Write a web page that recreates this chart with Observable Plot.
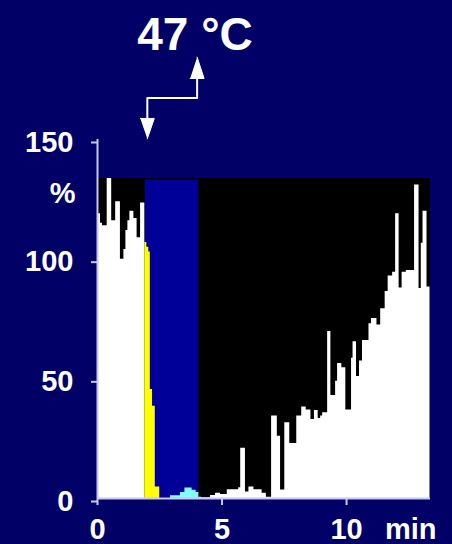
<!DOCTYPE html>
<html><head><meta charset="utf-8">
<script src="https://cdn.jsdelivr.net/npm/d3@7"></script>
<script src="https://cdn.jsdelivr.net/npm/@observablehq/plot@0.6"></script>
<style>
html,body{margin:0;padding:0;background:#000066;}
#wrap{position:relative;width:452px;height:544px;overflow:hidden;}
#wrap svg{display:block;}
#title{position:absolute;left:0;top:11px;width:390px;text-align:center;color:#fff;font:bold 46px/1 "Liberation Sans",Arial,sans-serif;}
</style></head>
<body><div id="wrap"><div id="title">47 °C</div></div>
<script>
// ---- data (time in min, response in %) ----
const titleText = "47 °C";
const xTicks = [0, 5, 10];
const yTicks = [0, 50, 100, 150];
const recordEnd = 13.37, recordTop = 133.7;     // black recording panel
const heatStart = 1.93, heatEnd = 4.07, heatTop = 133; // blue heat period

// white trace before heat
const preT = [0, 0.12, 0.20, 0.39, 0.57, 0.73, 0.92, 1.06, 1.14, 1.22, 1.30, 1.46, 1.59, 1.73];
const preV = [119, 115, 114, 133.7, 116, 124, 100, 104, 112, 116, 120, 117, 109, 123.5];
const preEnd = 1.90;
// yellow trace at heat onset
const yellowT = [1.90, 1.98, 2.06, 2.12, 2.21, 2.32];
const yellowV = [107, 105, 103, 45.5, 38.5, 4.8];
const yellowEnd = 2.50;
// cyan trace late in heat
const cyanT = [2.93, 3.33, 3.51, 3.80, 3.96];
const cyanV = [1.2, 2.5, 4.4, 3.4, 2.5];
const cyanEnd = 4.07;
// white trace recovery
const postT = [4.07, 4.17, 4.54, 4.74, 4.94, 5.21, 5.67, 5.75, 5.94, 6.08, 6.28, 6.61, 6.78, 6.99, 7.22, 7.35, 7.52, 7.72, 8.00, 8.20, 8.38, 8.57, 8.71, 8.86, 8.96, 9.04, 9.24, 9.37, 9.56, 9.64, 9.81, 9.97, 10.20, 10.26, 10.40, 10.52, 10.64, 10.90, 11.00, 11.22, 11.37, 11.55, 11.67, 11.85, 11.97, 12.11, 12.23, 12.40, 12.73, 12.91, 13.00, 13.07, 13.23];
const postV = [0.5, 0.3, 1.3, 2.2, 1.7, 3.7, 4.5, 21, 2.7, 4.8, 3.7, 2.2, 0.5, 34.5, 26, 3.5, 31.6, 23, 34.5, 38.2, 37, 33, 36.8, 33.4, 34.5, 35.8, 69.8, 43, 49, 56.4, 54.6, 37, 58.6, 65.5, 51, 57.5, 66, 73, 75.2, 72.5, 79.3, 86.5, 93, 94.5, 119, 88, 94.5, 95.3, 131, 87.7, 106.6, 120, 88.4];
const postEnd = 13.35;

// temperature-step arrow annotation (data coords)
const arrowT = [2.0, 2.0, 4.0, 4.0];
const arrowV = [158.8, 167.3, 167.3, 175.5];
const headDownT = [1.72, 2.28, 2.0];
const headDownV = [158.8, 158.8, 150.3];
const headUpT = [3.72, 4.28, 4.0];
const headUpV = [175.5, 175.5, 184.4];

// ---- build ----
function steps(ts, vs, end) {
  const d = ts.map((t, i) => ({t, v: vs[i]}));
  d.push({t: end, v: vs[vs.length - 1]});
  return d;
}
const pts = (ts, vs) => ts.map((t, i) => ({t, v: vs[i]}));

const font = '"Liberation Sans", Arial, sans-serif';
const axisColor = "#c8c8f0";

const chart = Plot.plot({
  width: 452, height: 544,
  marginLeft: 97, marginRight: 22, marginTop: 139, marginBottom: 46,
  style: {background: "transparent", color: "white", fontFamily: font, fontWeight: "bold", fontSize: "29px", overflow: "visible"},
  x: {domain: [0, recordEnd]},
  y: {domain: [0, 150]},
  marks: [
    Plot.rect([{x1: 0, x2: recordEnd, y1: 0, y2: recordTop}], {x1: "x1", x2: "x2", y1: "y1", y2: "y2", fill: "black"}),
    Plot.rect([{x1: heatStart, x2: heatEnd, y1: 0, y2: heatTop}], {x1: "x1", x2: "x2", y1: "y1", y2: "y2", fill: "#000099"}),
    Plot.areaY(steps(preT, preV, preEnd), {x: "t", y: "v", curve: "step-after", fill: "white"}),
    Plot.areaY(steps(yellowT, yellowV, yellowEnd), {x: "t", y: "v", curve: "step-after", fill: "#ffff00"}),
    Plot.areaY(steps(cyanT, cyanV, cyanEnd), {x: "t", y: "v", curve: "step-after", fill: "#80ffff"}),
    Plot.areaY(steps(postT, postV, postEnd), {x: "t", y: "v", curve: "step-after", fill: "white"}),
    Plot.ruleY([{y: 0, x1: 0, x2: recordEnd}], {y: "y", x1: "x1", x2: "x2", stroke: axisColor, strokeWidth: 2}),
    Plot.ruleX([{x: 0, y1: 0, y2: 150}], {x: "x", y1: "y1", y2: "y2", stroke: axisColor, strokeWidth: 2}),
    Plot.axisX({ticks: xTicks, tickSize: 7, tickPadding: 13, stroke: axisColor, fill: "white", label: null, strokeWidth: 2}),
    Plot.axisY({ticks: yTicks, tickSize: 6, tickPadding: 18, stroke: axisColor, fill: "white", label: null, strokeWidth: 2, dy: 3}),
    Plot.text(["%"], {frameAnchor: "top-left", dx: -22, dy: 54, textAnchor: "end", lineAnchor: "middle", fill: "white"}),
    Plot.text(["min"], {frameAnchor: "bottom-right", dx: 6, dy: 20, textAnchor: "end", lineAnchor: "top", fill: "white"}),
    Plot.line(pts(arrowT, arrowV), {x: "t", y: "v", stroke: "white", strokeWidth: 2}),
    Plot.line(pts(headDownT, headDownV), {x: "t", y: "v", fill: "white", stroke: "white", strokeWidth: 1}),
    Plot.line(pts(headUpT, headUpV), {x: "t", y: "v", fill: "white", stroke: "white", strokeWidth: 1})
  ]
});
document.getElementById("wrap").prepend(chart);
document.getElementById("title").textContent = titleText;
</script>
</body></html>
